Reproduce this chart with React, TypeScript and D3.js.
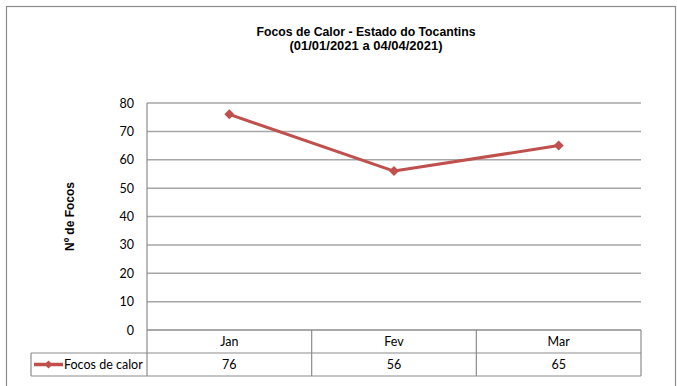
import React from "react";
import * as d3 from "d3";

const categories = ["Jan", "Fev", "Mar"];
const values = [76, 56, 65];
const yTicks = [0, 10, 20, 30, 40, 50, 60, 70, 80];
const seriesName = "Focos de calor";
const titleLines = ["Focos de Calor - Estado do Tocantins", "(01/01/2021 a 04/04/2021)"];
const yLabel = "Nº de Focos";

export default function App() {
  const W = 677, H = 386;
  const left = 147, right = 641, top = 103, bottom = 330;
  const x = d3.scaleBand<string>().domain(categories).range([left, right]);
  const y = d3.scaleLinear().domain([0, 80]).range([bottom, top]);
  const line = d3.line<number>()
    .x((_, i) => (x(categories[i]) as number) + x.bandwidth() / 2)
    .y((d) => y(d));
  const row1 = 353, row2 = 376, legendLeft = 31;
  const grid = "#A6A6A6";
  const border = "#8C8C8C";
  const red = "#C0504D";
  const font = "Lato, 'Noto Sans', sans-serif";
  const diamond = (cx: number, cy: number, r: number) =>
    `M${cx},${cy - r}L${cx + r},${cy}L${cx},${cy + r}L${cx - r},${cy}Z`;
  return (
    <svg width={W} height={H} style={{ position: "absolute", left: 0, top: 0, background: "#fff" }}>
      <rect x={6.5} y={6.5} width={669} height={400} fill="#fff" stroke="#8C8C8C" strokeWidth={1.2} />
      {titleLines.map((t, i) => (
        <text key={i} x={366} y={35.5 + i * 14.5} textAnchor="middle" fontFamily="'Liberation Sans', Arial, sans-serif"
          fontWeight="bold" fontSize={12.5} textLength={i === 0 ? 219 : 153} lengthAdjust="spacingAndGlyphs" fill="#000">{t}</text>
      ))}
      <text transform={`translate(74,${(top + bottom) / 2}) rotate(-90)`} textAnchor="middle"
        fontFamily="'Liberation Sans', Arial, sans-serif" fontWeight="bold" fontSize={12} fill="#000">{yLabel}</text>
      {yTicks.map((t) => (
        <g key={t}>
          <line x1={left} x2={right} y1={y(t)} y2={y(t)} stroke={t === 0 ? border : grid} strokeWidth={1.5} />
          <text x={134} y={y(t) + 4.5} textAnchor="end" fontFamily={font} fontSize={12.5} fill="#000">{t}</text>
        </g>
      ))}
      <line x1={left} x2={left} y1={top} y2={row2} stroke={border} strokeWidth={1.2} />
      <line x1={right} x2={right} y1={bottom} y2={row2} stroke={border} strokeWidth={1.2} />
      <line x1={legendLeft} x2={right} y1={row1} y2={row1} stroke={border} strokeWidth={1.2} />
      <line x1={legendLeft} x2={right} y1={row2} y2={row2} stroke={border} strokeWidth={1.2} />
      <line x1={legendLeft} x2={legendLeft} y1={row1} y2={row2} stroke={border} strokeWidth={1.2} />
      {categories.map((c, i) => {
        const bx = x(c) as number;
        return (
          <g key={c}>
            {i > 0 && <line x1={bx} x2={bx} y1={bottom} y2={row2} stroke={border} strokeWidth={1.2} />}
            <text x={bx + x.bandwidth() / 2} y={346} textAnchor="middle" fontFamily={font} fontSize={12.5} fill="#000">{c}</text>
            <text x={bx + x.bandwidth() / 2} y={369} textAnchor="middle" fontFamily={font} fontSize={12.5} fill="#000">{values[i]}</text>
          </g>
        );
      })}
      <line x1={34} x2={63} y1={364.5} y2={364.5} stroke={red} strokeWidth={3.5} />
      <path d={diamond(48.5, 364.5, 4)} fill={red} />
      <text x={64} y={369} fontFamily={font} fontSize={12.5} fill="#000">{seriesName}</text>
      <path d={line(values) || ""} fill="none" stroke={red} strokeWidth={3} strokeLinejoin="round" />
      {values.map((v, i) => (
        <path key={i} d={diamond((x(categories[i]) as number) + x.bandwidth() / 2, y(v), 5)} fill={red} />
      ))}
    </svg>
  );
}
